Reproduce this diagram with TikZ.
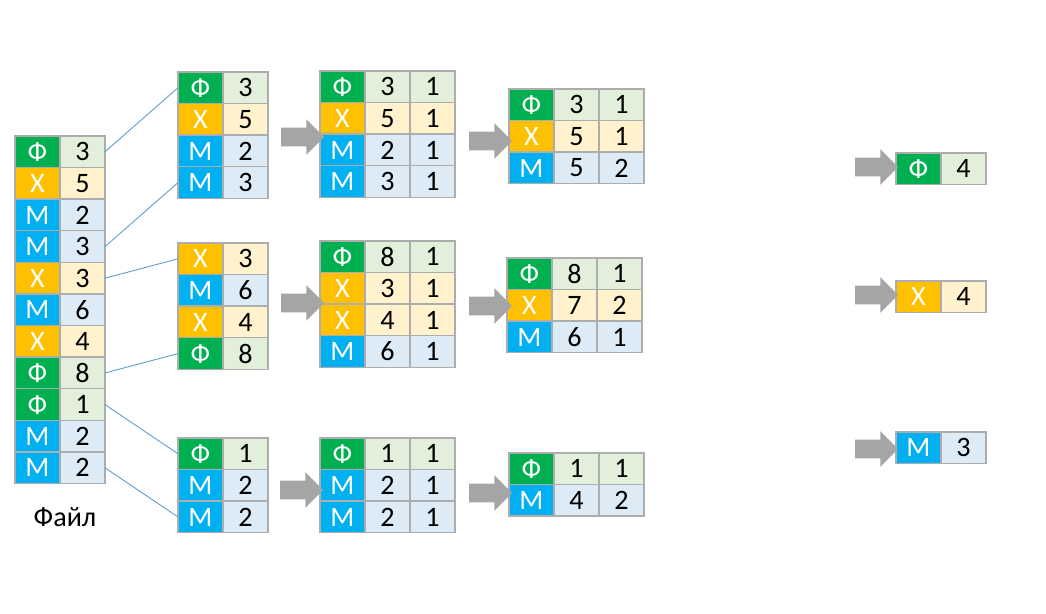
\documentclass[tikz,border=0pt]{standalone}
\usepackage{fontspec}
\setmainfont{Carlito}
\usetikzlibrary{positioning,shapes.arrows}

\definecolor{fgreen}{HTML}{00B050}
\definecolor{fgreenl}{HTML}{E2EFDA}
\definecolor{xorange}{HTML}{FFC000}
\definecolor{xorangel}{HTML}{FFF2CC}
\definecolor{mblue}{HTML}{00B0F0}
\definecolor{mbluel}{HTML}{DDEBF7}
\definecolor{cellline}{HTML}{ADADAD}
\definecolor{arrowgray}{HTML}{A5A5A5}
\definecolor{linkblue}{HTML}{5B9BD5}

\tikzset{
  cell/.style={draw=cellline, line width=0.8pt, minimum width=0.9cm, minimum height=0.632cm,
    inner sep=0pt, outer sep=0pt, anchor=north west, font=\fontsize{16}{19}\selectfont},
  fk/.style={fill=fgreen, text=white}, fv/.style={fill=fgreenl},
  xk/.style={fill=xorange, text=white}, xv/.style={fill=xorangel},
  mk/.style={fill=mblue, text=white}, mv/.style={fill=mbluel},
  flow/.style={single arrow, fill=arrowgray, draw=none, minimum height=0.86cm,
    single arrow head extend=0.17cm, inner sep=0.18cm},
  link/.style={draw=linkblue, line width=0.5pt}
}

% key / value rows
\newcommand{\keytable}[4]{%
  \foreach \ltr/\sty/\va [count=\i] in {#4} {
    \node[cell, \sty k] (#1-\i) at (#2, {#3+(\i-1)*31.6}) {\ltr};
    \node[cell, \sty v, right=0pt of #1-\i] (#1-\i-a) {\va};
  }}
% key / value / count rows
\newcommand{\counttable}[4]{%
  \foreach \ltr/\sty/\va/\vb [count=\i] in {#4} {
    \node[cell, \sty k] (#1-\i) at (#2, {#3+(\i-1)*31.6}) {\ltr};
    \node[cell, \sty v, right=0pt of #1-\i] (#1-\i-a) {\va};
    \node[cell, \sty v, right=0pt of #1-\i-a] (#1-\i-b) {\vb};
  }}

\begin{document}
\begin{tikzpicture}[x=0.02cm, y=-0.02cm]
  \useasboundingbox (0,0) rectangle (1046,614);

  % File
  \keytable{file}{15}{136}{Ф/f/3, Х/x/5, М/m/2, М/m/3, Х/x/3, М/m/6, Х/x/4, Ф/f/8, Ф/f/1, М/m/2, М/m/2}
  \node[font=\fontsize{16}{19}\selectfont] (filename) at (65,517) {Файл};

  % Splits
  \keytable{parta}{178}{72}{Ф/f/3, Х/x/5, М/m/2, М/m/3}
  \keytable{partb}{178}{243}{Х/x/3, М/m/6, Х/x/4, Ф/f/8}
  \keytable{partc}{178}{438}{Ф/f/1, М/m/2, М/m/2}

  % Links from file to splits
  \draw[link] (file-1-a.east) -- (parta-1.west);
  \draw[link] (file-4-a.east) -- (parta-4.west);
  \draw[link] (file-5-a.east) -- (partb-1.west);
  \draw[link] (file-8-a.east) -- (partb-4.west);
  \draw[link] (file-9-a.east) -- (partc-1.west);
  \draw[link] (file-11-a.east) -- (partc-3.west);

  % Map
  \counttable{mapa}{320}{71}{Ф/f/3/1, Х/x/5/1, М/m/2/1, М/m/3/1}
  \counttable{mapb}{320}{241}{Ф/f/8/1, Х/x/3/1, Х/x/4/1, М/m/6/1}
  \counttable{mapc}{320}{438}{Ф/f/1/1, М/m/2/1, М/m/2/1}

  % Combine
  \counttable{reda}{509}{89}{Ф/f/3/1, Х/x/5/1, М/m/5/2}
  \counttable{redb}{507}{258}{Ф/f/8/1, Х/x/7/2, М/m/6/1}
  \counttable{redc}{509}{453}{Ф/f/1/1, М/m/4/2}

  % Totals
  \keytable{tota}{896}{153}{Ф/f/4}
  \keytable{totb}{896}{281}{Х/x/4}
  \keytable{totc}{896}{432}{М/m/3}

  % Arrows
  \node[flow] (arra1) at (298,137) {};
  \node[flow] (arrb1) at (298,303) {};
  \node[flow] (arrc1) at (297,490) {};
  \node[flow] (arra2) at (486,141) {};
  \node[flow] (arrb2) at (486,306) {};
  \node[flow] (arrc2) at (486,493) {};
  \node[flow] (arra3) at (872,167) {};
  \node[flow] (arrb3) at (872,295) {};
  \node[flow] (arrc3) at (872,449) {};
\end{tikzpicture}
\end{document}
